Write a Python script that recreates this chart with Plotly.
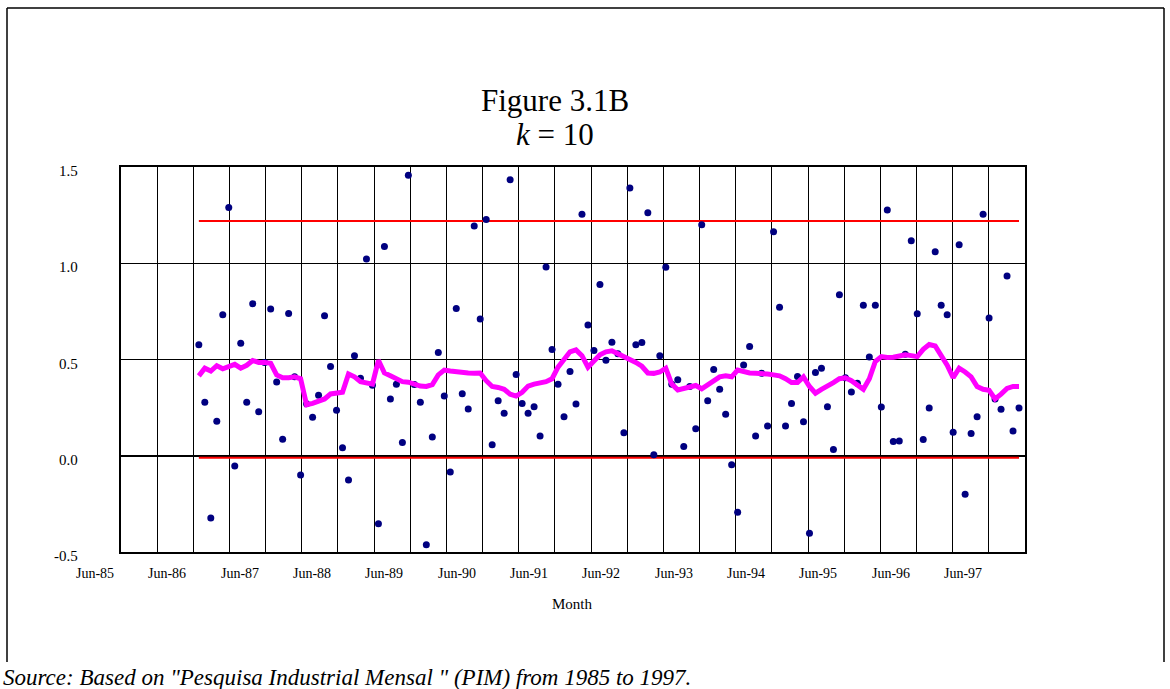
import plotly.graph_objects as go

# ---------------- data ----------------
# monthly observations, first point = Jul-86 (month index 13 counting Jun-85 as 0)
obs = [0.576, 0.278, -0.324, 0.179, 0.733, 1.29, -0.053, 0.584, 0.278, 0.79,
       0.228, 0.485, 0.762, 0.383, 0.086, 0.739, 0.41, -0.1, 0.27, 0.2,
       0.314, 0.727, 0.464, 0.236, 0.041, -0.126, 0.519, 0.402, 1.022, 0.366,
       -0.353, 1.087, 0.295, 0.371, 0.069, 1.457, 0.37, 0.278, -0.462, 0.098,
       0.536, 0.31, -0.084, 0.765, 0.322, 0.243, 1.194, 0.710, 1.227, 0.057,
       0.286, 0.221, 1.434, 0.422, 0.272, 0.221, 0.255, 0.102, 0.981, 0.552,
       0.371, 0.203, 0.438, 0.269, 1.255, 0.679, 0.547, 0.889, 0.496, 0.589,
       0.53, 0.12, 1.391, 0.576, 0.588, 1.262, 0.005, 0.519, 0.979, 0.372,
       0.395, 0.048, 0.36, 0.14, 1.2, 0.286, 0.448, 0.345, 0.215, -0.047,
       -0.293, 0.472, 0.567, 0.102, 0.428, 0.155, 1.163, 0.772, 0.155, 0.272,
       0.412, 0.176, -0.403, 0.433, 0.455, 0.255, 0.033, 0.836, 0.405, 0.331,
       0.376, 0.782, 0.513, 0.782, 0.253, 1.277, 0.074, 0.076, 0.527, 1.117,
       0.738, 0.084, 0.248, 1.06, 0.782, 0.733, 0.122, 1.096, -0.2, 0.115,
       0.202, 1.255, 0.715, 0.295, 0.241, 0.934, 0.129, 0.248]

smooth = [0.415, 0.455, 0.44, 0.468, 0.452, 0.462, 0.475, 0.455, 0.47, 0.495,
          0.485, 0.485, 0.48, 0.42, 0.405, 0.405, 0.41, 0.40, 0.265, 0.272,
          0.285, 0.295, 0.321, 0.324, 0.33, 0.425, 0.41, 0.385, 0.38, 0.372,
          0.496, 0.43, 0.415, 0.40, 0.385, 0.382, 0.37, 0.362, 0.36, 0.37,
          0.42, 0.445, 0.44, 0.435, 0.43, 0.43, 0.428, 0.43, 0.39, 0.36,
          0.355, 0.345, 0.32, 0.31, 0.33, 0.362, 0.372, 0.376, 0.385, 0.40,
          0.46, 0.50, 0.54, 0.55, 0.52, 0.46, 0.495, 0.525, 0.54, 0.545,
          0.53, 0.515, 0.505, 0.485, 0.465, 0.43, 0.428, 0.435, 0.455, 0.372,
          0.342, 0.35, 0.36, 0.365, 0.348, 0.368, 0.395, 0.41, 0.415, 0.41,
          0.445, 0.435, 0.43, 0.428, 0.428, 0.425, 0.42, 0.415, 0.40, 0.38,
          0.38, 0.41, 0.36, 0.325, 0.345, 0.36, 0.38, 0.40, 0.405, 0.39,
          0.37, 0.345, 0.40, 0.49, 0.515, 0.51, 0.512, 0.52, 0.525, 0.52,
          0.515, 0.553, 0.578, 0.57, 0.52, 0.47, 0.405, 0.455, 0.435, 0.41,
          0.36, 0.345, 0.34, 0.295, 0.32, 0.35, 0.36, 0.36]

upper_limit = 1.22
lower_limit = -0.01

first_month = 13  # Jul-86, counting Jun-85 as 0
months = list(range(first_month, first_month + len(obs)))

x_labels = ["Jun-85", "Jun-86", "Jun-87", "Jun-88", "Jun-89", "Jun-90", "Jun-91",
            "Jun-92", "Jun-93", "Jun-94", "Jun-95", "Jun-96", "Jun-97"]
y_ticks = [-0.5, 0.0, 0.5, 1.0, 1.5]

# ---------------- layout geometry ----------------
W, H = 1170, 689
L, R, T, B = 121, 1025, 167, 552
pw, ph = R - L, B - T
GRID_MONTHS = 150

def px(x):
    return (x - L) / pw

def py(y):
    return (B - y) / ph

SERIF = "Liberation Serif, Times New Roman, serif"

fig = go.Figure()

fig.add_trace(go.Scatter(x=[months[0], months[-1]], y=[upper_limit, upper_limit],
                         mode="lines", line=dict(color="#FF0000", width=2),
                         xaxis="x2", yaxis="y", hoverinfo="skip"))
fig.add_trace(go.Scatter(x=[months[0], months[-1]], y=[lower_limit, lower_limit],
                         mode="lines", line=dict(color="#FF0000", width=2),
                         xaxis="x2", yaxis="y", hoverinfo="skip"))
fig.add_trace(go.Scatter(x=months, y=obs, mode="markers",
                         marker=dict(color="#000080", size=7, line=dict(width=0)),
                         xaxis="x2", yaxis="y"))
fig.add_trace(go.Scatter(x=months, y=smooth, mode="lines",
                         line=dict(color="#FF00FF", width=5),
                         xaxis="x2", yaxis="y"))

annotations = []
# x labels (Excel-style offsets); labels inside the range reference the grid axis
for k, lab in enumerate(x_labels):
    pos = -4.3 + 12 * k
    if pos >= 0:
        ref = dict(x=pos, xref="x")
    else:
        ref = dict(x=pos / GRID_MONTHS, xref="paper")
    annotations.append(dict(**ref, y=0, yref="paper",
                            yshift=-21, yanchor="middle", xanchor="center",
                            text=lab, showarrow=False,
                            font=dict(family=SERIF, size=14, color="black")))
# y labels (slightly below their gridlines, as in the original)
for v in y_ticks:
    annotations.append(dict(x=px(80), xref="paper", y=v, yref="y", yshift=-4,
                            xanchor="right", yanchor="middle", text=f"{v:.1f}",
                            showarrow=False,
                            font=dict(family=SERIF, size=15, color="black")))
annotations.append(dict(x=px(572), xref="paper", y=py(604), yref="paper",
                        text="Month", showarrow=False, xanchor="center", yanchor="middle",
                        font=dict(family=SERIF, size=15, color="black")))
annotations.append(dict(x=px(555), xref="paper", y=py(100), yref="paper",
                        text="Figure 3.1B", showarrow=False, xanchor="center", yanchor="middle",
                        font=dict(family=SERIF, size=31, color="black")))
annotations.append(dict(x=px(555), xref="paper", y=py(134), yref="paper",
                        text="<i>k</i> = 10", showarrow=False, xanchor="center", yanchor="middle",
                        font=dict(family=SERIF, size=31, color="black")))
annotations.append(dict(x=px(1), xref="paper", y=py(677), yref="paper",
                        text="<i>Source: Based on \"Pesquisa Industrial Mensal \" (PIM) from 1985 to 1997.</i>",
                        showarrow=False, xanchor="left", yanchor="middle",
                        font=dict(family=SERIF, size=23, color="black")))

shapes = [
    dict(type="line", xref="paper", yref="paper", x0=px(7), x1=px(1164), y0=py(8), y1=py(8),
         line=dict(color="black", width=1.5)),
    dict(type="line", xref="paper", yref="paper", x0=px(7), x1=px(7), y0=py(8), y1=py(662),
         line=dict(color="black", width=1.5)),
    dict(type="line", xref="paper", yref="paper", x0=px(1164), x1=px(1164), y0=py(8), y1=py(662),
         line=dict(color="black", width=1.5)),
]

fig.update_layout(
    width=W, height=H,
    margin=dict(l=L, r=W - R, t=T, b=H - B, pad=0),
    paper_bgcolor="white", plot_bgcolor="white",
    showlegend=False,
    xaxis=dict(range=[0, GRID_MONTHS], tick0=0, dtick=6, showgrid=True, gridcolor="black",
               gridwidth=1, showticklabels=False, ticks="", zeroline=False,
               showline=True, linecolor="black", linewidth=2, mirror=True, fixedrange=True),
    xaxis2=dict(range=[0, 151], overlaying="x", visible=False, fixedrange=True),
    yaxis=dict(range=[-0.5, 1.5], tickvals=y_ticks, showticklabels=False,
               showgrid=True, gridcolor="black", gridwidth=1,
               zeroline=True, zerolinecolor="black", zerolinewidth=2,
               showline=True, linecolor="black", linewidth=2, mirror=True,
               ticks="", fixedrange=True),
    annotations=annotations,
    shapes=shapes,
)

fig.write_html("out.html", config={"displayModeBar": False},
               post_script="document.body.style.margin='0px';document.body.style.overflow='hidden';")
